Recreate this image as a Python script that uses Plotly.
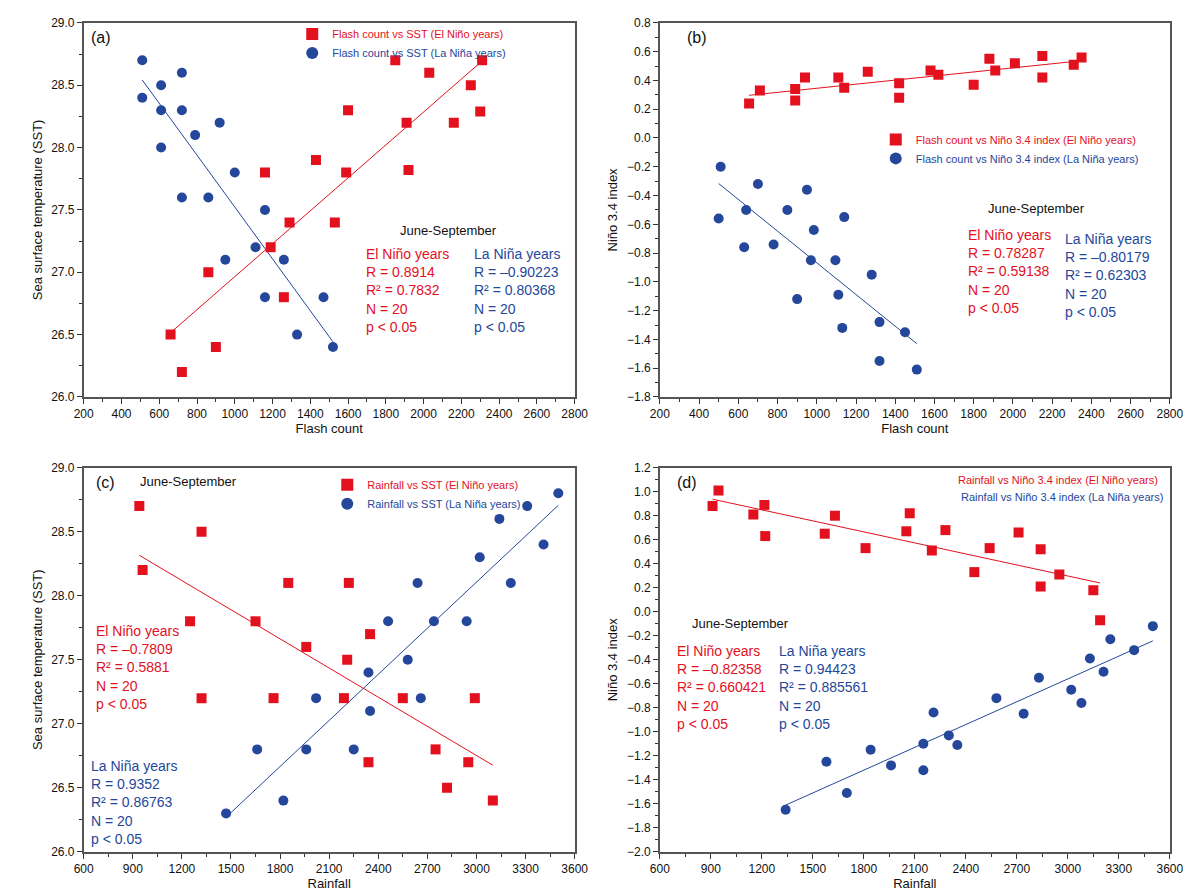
import numpy as np
import plotly.graph_objects as go

# Panel (a): Flash count vs SST
a_el_x = [660,720,860,900,1160,1190,1260,1290,1430,1530,1590,1600,1850,1910,1920,2030,2160,2250,2310,2300]
a_el_y = [26.5,26.2,27.0,26.4,27.8,27.2,26.8,27.4,27.9,27.4,27.8,28.3,28.7,28.2,27.82,28.6,28.2,28.5,28.7,28.29]
a_la_x = [510,510,610,610,610,720,720,720,790,860,920,950,1000,1110,1160,1160,1260,1330,1470,1520]
a_la_y = [28.7,28.4,28.5,28.3,28.0,28.6,28.3,27.6,28.1,27.6,28.2,27.1,27.8,27.2,27.5,26.8,27.1,26.5,26.8,26.4]
# Panel (b): Flash count vs Nino 3.4
b_el_x = [655,710,890,890,940,1110,1140,1260,1420,1420,1580,1620,1800,1880,1910,2010,2150,2150,2310,2350]
b_el_y = [0.24,0.33,0.34,0.26,0.42,0.42,0.35,0.46,0.38,0.28,0.47,0.44,0.37,0.55,0.47,0.52,0.57,0.42,0.51,0.56]
b_la_x = [510,500,640,630,700,780,850,950,900,970,985,1095,1110,1130,1140,1280,1320,1320,1450,1510]
b_la_y = [-0.2,-0.56,-0.5,-0.76,-0.32,-0.74,-0.5,-0.36,-1.12,-0.85,-0.64,-0.85,-1.09,-1.32,-0.55,-0.95,-1.28,-1.55,-1.35,-1.61]
# Panel (c): Rainfall vs SST
c_el_x = [940,960,1250,1320,1320,1650,1760,1850,1960,2190,2210,2220,2350,2340,2550,2750,2820,2950,2990,3100]
c_el_y = [28.7,28.2,27.8,28.5,27.2,27.8,27.2,28.1,27.6,27.2,27.5,28.1,27.7,26.7,27.2,26.8,26.5,26.7,27.2,26.4]
c_la_x = [1470,1660,1820,1960,2020,2250,2340,2350,2460,2580,2640,2660,2740,2940,3020,3140,3210,3310,3410,3500]
c_la_y = [26.3,26.8,26.4,26.8,27.2,26.8,27.4,27.1,27.8,27.5,28.1,27.2,27.8,27.8,28.3,28.6,28.1,28.7,28.4,28.8]
# Panel (d): Rainfall vs Nino 3.4
d_el_x = [910,945,1150,1215,1220,1570,1630,1810,2050,2070,2200,2280,2450,2540,2710,2840,2840,2950,3150,3190]
d_el_y = [0.88,1.01,0.81,0.89,0.63,0.65,0.8,0.53,0.67,0.82,0.51,0.68,0.33,0.53,0.66,0.21,0.52,0.31,0.18,-0.07]
d_la_x = [1340,1580,1700,1840,1960,2150,2150,2210,2300,2350,2580,2740,2830,3020,3080,3130,3210,3250,3390,3500]
d_la_y = [-1.65,-1.25,-1.51,-1.15,-1.28,-1.1,-1.32,-0.84,-1.03,-1.11,-0.72,-0.85,-0.55,-0.65,-0.76,-0.39,-0.5,-0.23,-0.32,-0.12]

RED = "#e3101e"
BLUE = "#25479b"
FONT = "Liberation Sans"

fig = go.Figure()

doms = {
    "": ([0.0563, 0.477], [0.5655, 0.991]),
    "2": ([0.55, 0.987], [0.5655, 0.991]),
    "3": ([0.0563, 0.477], [0.048, 0.485]),
    "4": ([0.55, 0.987], [0.048, 0.485]),
}
legpos = {"": (0.235, 0.995), "2": (0.735, 0.875), "3": (0.265, 0.482)}

panels = [
    ("", a_el_x, a_el_y, a_la_x, a_la_y, "Flash count vs SST (El Niño years)", "Flash count vs SST (La Niña years)", True),
    ("2", b_el_x, b_el_y, b_la_x, b_la_y, "Flash count vs Niño 3.4 index (El Niño years)", "Flash count vs Niño 3.4 index (La Niña years)", True),
    ("3", c_el_x, c_el_y, c_la_x, c_la_y, "Rainfall vs SST (El Niño years)", "Rainfall vs SST (La Niña years)", True),
    ("4", d_el_x, d_el_y, d_la_x, d_la_y, "Rainfall vs Niño 3.4 index (El Niño years)", "Rainfall vs Niño 3.4 index (La Niña years)", False),
]

for k, ex, ey, lx, ly, n1, n2, showm in panels:
    xa, ya = "x" + k, "y" + k
    lg = "legend" + k
    for xs, ys, col in [(ex, ey, RED), (lx, ly, BLUE)]:
        m, b = np.polyfit(xs, ys, 1)
        xx = np.array([min(xs), max(xs)])
        fig.add_trace(go.Scatter(x=xx, y=m * xx + b, mode="lines", line=dict(color=col, width=1),
                                 showlegend=False, xaxis=xa, yaxis=ya, hoverinfo="skip"))
    fig.add_trace(go.Scatter(x=ex, y=ey, mode="markers",
                             name=f"<span style='color:{RED}'>{n1}</span>", xaxis=xa, yaxis=ya,
                             legend=lg if showm else "legend",
                             marker=dict(symbol="square", size=10, color=RED), showlegend=showm))
    fig.add_trace(go.Scatter(x=lx, y=ly, mode="markers",
                             name=f"<span style='color:{BLUE}'>{n2}</span>", xaxis=xa, yaxis=ya,
                             legend=lg if showm else "legend",
                             marker=dict(symbol="circle", size=10, color=BLUE), showlegend=showm))

axcommon = dict(showline=True, linecolor="#555", linewidth=1.5, mirror=True, ticks="outside",
                ticklen=5, tickcolor="#333", showgrid=False, zeroline=False,
                tickfont=dict(size=12, color="#111"))

xcfg = {
    "": dict(range=[200, 2800], dtick=200, tick0=200, title="Flash count"),
    "2": dict(range=[200, 2800], dtick=200, tick0=200, title="Flash count"),
    "3": dict(range=[600, 3600], dtick=300, tick0=600, title="Rainfall"),
    "4": dict(range=[600, 3600], dtick=300, tick0=600, title="Rainfall"),
}
ycfg = {
    "": dict(range=[26.0, 29.0], dtick=0.5, tickformat=".1f", title="Sea surface temperature (SST)"),
    "2": dict(range=[-1.8, 0.8], dtick=0.2, tickformat=".1f", title="Niño 3.4 index"),
    "3": dict(range=[26.0, 29.0], dtick=0.5, tickformat=".1f", title="Sea surface temperature (SST)"),
    "4": dict(range=[-2.0, 1.2], dtick=0.2, tickformat=".1f", title="Niño 3.4 index"),
}
layout = {}
for k, (dx, dy) in doms.items():
    xc, yc = xcfg[k], ycfg[k]
    layout["xaxis" + k] = dict(axcommon, domain=dx, anchor="y" + k, range=xc["range"], dtick=xc["dtick"],
                              tick0=xc["tick0"], title=dict(text=xc["title"], font=dict(size=13), standoff=4),
                              minor=dict(ticks="outside", ticklen=3, tickcolor="#333", dtick=xc["dtick"] / 2))
    layout["yaxis" + k] = dict(axcommon, domain=dy, anchor="x" + k, range=yc["range"], dtick=yc["dtick"],
                              tickformat=yc["tickformat"], title=dict(text=yc["title"], font=dict(size=13), standoff=6),
                              minor=dict(ticks="outside", ticklen=3, tickcolor="#333", dtick=yc["dtick"] / 2))
for k, (lx0, ly0) in legpos.items():
    layout["legend" + k] = dict(x=lx0, y=ly0, xanchor="left", yanchor="top", bgcolor="rgba(0,0,0,0)",
                               font=dict(size=11), itemsizing="constant", tracegroupgap=0, itemwidth=30)
fig.update_layout(**layout)

anns = []
def ann(xref, yref, x, y, text, color="#111", size=14, xanchor="left", yanchor="top"):
    anns.append(dict(xref=xref, yref=yref, x=x, y=y, text=text, showarrow=False, align="left",
                     xanchor=xanchor, yanchor=yanchor, font=dict(size=size, color=color, family=FONT)))

ann("x domain", "y domain", 0.01, 0.99, "(a)", size=16)
ann("x2 domain", "y2 domain", 0.05, 0.99, "(b)", size=16)
ann("x3 domain", "y3 domain", 0.02, 0.99, "(c)", size=16)
ann("x4 domain", "y4 domain", 0.03, 0.99, "(d)", size=16)

ann("x4 domain", "y4 domain", 0.98, 0.99, "Rainfall vs Niño 3.4 index (El Niño years)", RED, 11, "right")
ann("x4 domain", "y4 domain", 0.99, 0.945, "Rainfall vs Niño 3.4 index (La Niña years)", BLUE, 11, "right")

ann("x domain", "y domain", 0.64, 0.47, "June-September", size=13)
ann("x domain", "y domain", 0.57, 0.41, "El Niño years<br>R = 0.8914<br>R² = 0.7832<br>N = 20<br>p < 0.05", RED)
ann("x domain", "y domain", 0.79, 0.41, "La Niña years<br>R = –0.90223<br>R² = 0.80368<br>N = 20<br>p < 0.05", BLUE)

ann("x2 domain", "y2 domain", 0.64, 0.53, "June-September", size=13)
ann("x2 domain", "y2 domain", 0.6, 0.46, "El Niño years<br>R = 0.78287<br>R² = 0.59138<br>N = 20<br>p < 0.05", RED)
ann("x2 domain", "y2 domain", 0.79, 0.45, "La Niña years<br>R = –0.80179<br>R² = 0.62303<br>N = 20<br>p < 0.05", BLUE)

ann("x3 domain", "y3 domain", 0.11, 0.99, "June-September", size=13)
ann("x3 domain", "y3 domain", 0.02, 0.6, "El Niño years<br>R = –0.7809<br>R² = 0.5881<br>N = 20<br>p < 0.05", RED)
ann("x3 domain", "y3 domain", 0.01, 0.25, "La Niña years<br>R = 0.9352<br>R² = 0.86763<br>N = 20<br>p < 0.05", BLUE)

ann("x4 domain", "y4 domain", 0.06, 0.62, "June-September", size=13)
ann("x4 domain", "y4 domain", 0.03, 0.55, "El Niño years<br>R = –0.82358<br>R² = 0.660421<br>N = 20<br>p < 0.05", RED)
ann("x4 domain", "y4 domain", 0.23, 0.55, "La Niña years<br>R = 0.94423<br>R² = 0.885561<br>N = 20<br>p < 0.05", BLUE)

fig.update_layout(annotations=anns, width=1191, height=893, margin=dict(l=0, r=0, t=0, b=0),
                  plot_bgcolor="white", paper_bgcolor="white",
                  font=dict(family=FONT, size=12, color="#111"))

fig.write_html("out.html")
